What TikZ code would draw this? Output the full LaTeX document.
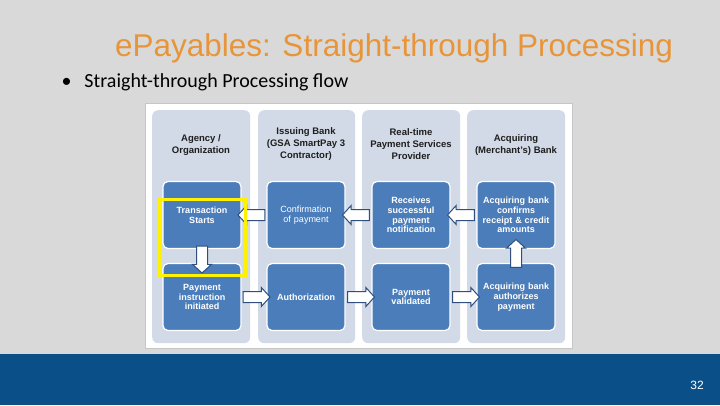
\documentclass[tikz,border=0pt]{standalone}
\usepackage{fontspec}
\setmainfont{Liberation Sans}
\newfontfamily\bodyfont{Carlito}
\usetikzlibrary{shapes.arrows,calc}
\definecolor{slidebg}{HTML}{D9D9D9}
\definecolor{barblue}{HTML}{0B4F88}
\definecolor{titleor}{HTML}{E8953A}
\definecolor{colbg}{HTML}{D2DAE7}
\definecolor{boxblue}{HTML}{4A7DBA}
\definecolor{arrowline}{HTML}{2F4F7F}
\definecolor{hdrtext}{HTML}{1E1E1E}
\tikzset{
  x=1pt,y=-1pt,
  colbox/.style={draw=none,fill=colbg,rounded corners=6pt,anchor=north west},
  stepbox/.style={draw=white,line width=1.2pt,fill=boxblue,rounded corners=5pt,
    minimum width=78pt,minimum height=67pt,text width=76pt,inner xsep=1pt,align=center,
    text=white,font=\fontsize{9}{9.7}\selectfont\bfseries},
  hdr/.style={align=center,text=hdrtext,font=\fontsize{9.5}{12}\selectfont\bfseries},
  blockarrow/.style={single arrow,draw=arrowline,line width=1pt,fill=white,
    minimum height=27pt,minimum width=0pt,single arrow head extend=4pt,
    single arrow tip angle=95,inner sep=5pt},
}
\begin{document}
\begin{tikzpicture}
\useasboundingbox (0,0) rectangle (720,405);
\fill[slidebg] (0,0) rectangle (720,405);
\fill[barblue] (0,354) rectangle (720,405);
\node[text=white,font=\fontsize{12}{14}\selectfont] (pg) at (697,385) {32};
\node[text=titleor,font=\fontsize{31.5}{34}\selectfont,anchor=base] (title) at (394,56) {ePayables: Straight-through Processing};
\node[font=\bodyfont\fontsize{20}{23}\selectfont,anchor=base west] (bul) at (58,87) {\textbullet\hspace{13pt}Straight-through Processing flow};
% frame
\node[draw=gray!45,line width=0.8pt,fill=white,minimum width=427pt,minimum height=245pt,anchor=north west,inner sep=0pt] (frame) at (145,103) {};
% columns
\node[colbox,minimum width=98pt,minimum height=233pt] (c1) at (152,110) {};
\node[colbox,minimum width=97pt,minimum height=233pt] (c2) at (258,110) {};
\node[colbox,minimum width=98pt,minimum height=233pt] (c3) at (362,110) {};
\node[colbox,minimum width=98pt,minimum height=233pt] (c4) at (467,110) {};
% headers
\node[hdr] (h1) at (201,145) {Agency /\\Organization};
\node[hdr] (h2) at (306,144) {Issuing Bank\\(GSA SmartPay 3\\Contractor)};
\node[hdr] (h3) at (411,144) {Real-time\\Payment Services\\Provider};
\node[hdr] (h4) at (516,145) {Acquiring\\(Merchant's) Bank};
% boxes
\node[stepbox] (a1) at (202,215) {Transaction\\Starts};
\node[stepbox] (b1) at (306,215) {\mdseries Confirmation\\of payment};
\node[stepbox] (r1) at (411,215) {Receives\\successful\\payment\\notification};
\node[stepbox] (q1) at (516,215) {Acquiring bank\\confirms\\receipt \& credit\\amounts};
\node[stepbox] (a2) at (202,297) {Payment\\instruction\\initiated};
\node[stepbox] (b2) at (306,297) {Authorization};
\node[stepbox] (r2) at (411,297) {Payment\\validated};
\node[stepbox] (q2) at (516,297) {Acquiring bank\\authorizes\\payment};
% arrows row 1 (leftwards)
\node[blockarrow,shape border rotate=180] (ab) at ($(a1.east)!0.5!(b1.west)$) {};
\node[blockarrow,shape border rotate=180] (br) at ($(b1.east)!0.5!(r1.west)$) {};
\node[blockarrow,shape border rotate=180] (rq) at ($(r1.east)!0.5!(q1.west)$) {};
% arrows row 2 (rightwards)
\node[blockarrow] (ab2) at ($(a2.east)!0.5!(b2.west)$) {};
\node[blockarrow] (br2) at ($(b2.east)!0.5!(r2.west)$) {};
\node[blockarrow] (rq2) at ($(r2.east)!0.5!(q2.west)$) {};
% vertical arrows
\node[blockarrow,shape border rotate=270] (down) at ($(a1.south)!0.5!(a2.north)+(0,1)$) {};
\node[blockarrow,shape border rotate=90,minimum height=28pt] (up) at ($(q2.north)!0.5!(q1.south)$) {};
% highlight
\node[draw=yellow,line width=3pt,minimum width=86pt,minimum height=76pt,anchor=north west,inner sep=0pt] (hl) at (158,198) {};
\end{tikzpicture}
\end{document}
